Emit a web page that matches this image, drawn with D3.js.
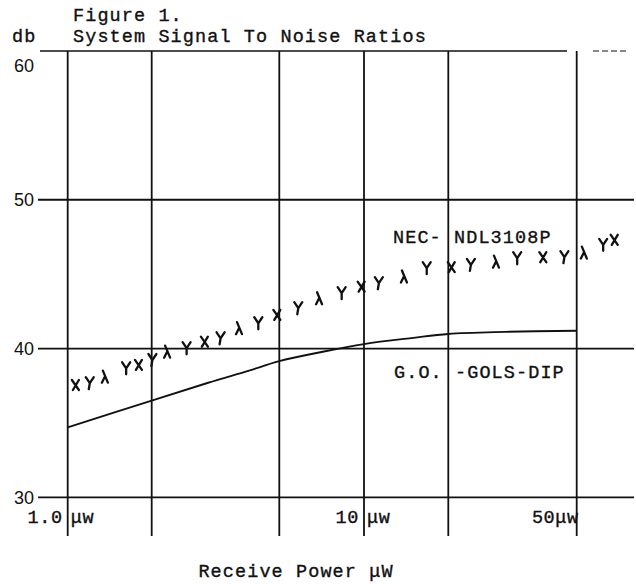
<!DOCTYPE html>
<html><head><meta charset="utf-8">
<script src="https://cdn.jsdelivr.net/npm/d3@7"></script>
<style>
html,body{margin:0;padding:0;background:#fff;}
svg{display:block;}
.mono{font-family:"Liberation Mono","DejaVu Sans Mono",monospace;}
.sans{font-family:"Liberation Sans",Arial,sans-serif;}
</style></head>
<body>
<svg id="chart" width="636" height="584"></svg>
<script>
// ---- data ----
const xGrid = [1, 2, 5, 10, 20, 50];            // receive power grid (μW)
const yGrid = [30, 40, 50, 60];                 // db grid
const yTickLabels = ["30", "40", "50", "60"];
const xTickValues = [1, 10, 50];
const xTickLeft = ["1.0", "10", "50μw"];
const xTickRight = ["μw", "μw", ""];

// G.O. -GOLS-DIP (solid curve)
const goX = [1, 2, 3, 4, 5, 7, 10, 15, 20, 30, 50];
const goY = [34.7, 36.5, 37.7, 38.5, 39.15, 39.75, 40.3, 40.72, 40.98, 41.12, 41.2];

// NEC- NDL3108P (hand-drawn marks)
const necX = [1.07, 1.2, 1.37, 1.62, 1.8, 2.01, 2.25, 2.57, 2.93, 3.28, 3.77, 4.3, 4.93,
              5.84, 6.98, 8.33, 9.81, 11.3, 14.0, 16.75, 20.5, 23.5, 28.3, 32.7, 39.4, 45.8, 53.0, 60.4, 65.6];
const necY = [37.55, 37.67, 38.11, 38.67, 38.9, 39.23, 39.79, 40.02, 40.46, 40.69, 41.37, 41.7, 42.26,
              42.71, 43.38, 43.72, 44.16, 44.39, 44.84, 45.4, 45.47, 45.62, 45.84, 46.07, 46.14, 46.14, 46.45, 46.97, 47.31];

const figureLabel = "Figure 1.";
const title = "System Signal To Noise Ratios";
const yUnit = "db";
const xTitle = "Receive Power μW";
const necLabel = "NEC- NDL3108P";
const goLabel = "G.O. -GOLS-DIP";

// ---- scales ----
const svg = d3.select("#chart");
const x = d3.scaleLog().domain(xGrid).range([67.7, 151.7, 279.3, 364, 448.3, 576.7]);
const y = d3.scaleLinear().domain([30, 60]).range([497.3, 51]);
const ink = "#111";

// horizontal grid lines
svg.append("g").selectAll("line").data(yGrid.filter(d => d < 60)).join("line")
  .attr("x1", 38).attr("x2", 634)
  .attr("y1", d => y(d)).attr("y2", d => y(d))
  .attr("stroke", ink).attr("stroke-width", 1.8);
// top line (title underline)
svg.append("line").attr("x1", 40).attr("x2", 567).attr("y1", y(60)).attr("y2", y(60))
  .attr("stroke", ink).attr("stroke-width", 1.6);
svg.append("line").attr("x1", 593).attr("x2", 628).attr("y1", y(60)).attr("y2", y(60))
  .attr("stroke", ink).attr("stroke-width", 1.2).attr("stroke-dasharray", "6,3");

// vertical grid lines
svg.append("g").selectAll("line").data(xGrid).join("line")
  .attr("x1", d => x(d)).attr("x2", d => x(d))
  .attr("y1", y(60)).attr("y2", 536)
  .attr("stroke", ink).attr("stroke-width", 1.8);

// y tick labels
svg.append("g").selectAll("text").data(yGrid).join("text")
  .attr("class", "sans")
  .attr("x", 34).attr("text-anchor", "end")
  .attr("y", d => d === 60 ? y(d) + 21 : y(d) + 6.5)
  .attr("font-size", 18).attr("fill", ink)
  .text((d, i) => yTickLabels[i]);

// x tick labels
const xt = svg.append("g").attr("class", "mono").attr("font-size", 18.5).attr("fill", ink)
  .attr("stroke", ink).attr("stroke-width", 0.35);
xt.selectAll("text.l").data(xTickValues).join("text").attr("class", "l")
  .attr("x", (d, i) => xTickRight[i] ? x(d) - 5 : x(d) + 2)
  .attr("y", 523).attr("text-anchor", "end")
  .attr("letter-spacing", 0.6)
  .text((d, i) => xTickLeft[i]);
xt.selectAll("text.r").data(xTickValues).join("text").attr("class", "r")
  .attr("x", d => x(d) + 3)
  .attr("y", 523)
  .attr("letter-spacing", 0.6)
  .text((d, i) => xTickRight[i]);

// titles
const tg = svg.append("g").attr("class", "mono").attr("font-size", 18.5).attr("fill", ink)
  .attr("stroke", ink).attr("stroke-width", 0.35).attr("letter-spacing", 1.1);
tg.append("text").attr("x", 73).attr("y", 21).text(figureLabel);
tg.append("text").attr("x", 73).attr("y", 42).text(title);
tg.append("text").attr("x", 12).attr("y", 42).text(yUnit);
tg.append("text").attr("x", 296).attr("y", 577).attr("text-anchor", "middle").text(xTitle);
tg.append("text").attr("x", 393).attr("y", 243).text(necLabel);
tg.append("text").attr("x", 394).attr("y", 378).text(goLabel);

// G.O. curve
const line = d3.line().x(d => x(d[0])).y(d => y(d[1])).curve(d3.curveCatmullRom.alpha(0.5));
svg.append("path").datum(goX.map((d, i) => [d, goY[i]]))
  .attr("d", line).attr("fill", "none").attr("stroke", ink).attr("stroke-width", 1.9);

// NEC marks (hand-drawn Y / x shapes)
const shapes = [
  "M-4,-5L3,5M3,-5L-3,5",
  "M-4,-6L0,0M4,-6L0,0L-1,6",
  "M-3,-6L2,6M-1,0L-4,6",
  "M-4,-6L0,0M4,-6L0,0L0,6"
];
svg.append("g").selectAll("path").data(necX.map((d, i) => [d, necY[i]])).join("path")
  .attr("transform", d => `translate(${x(d[0])},${y(d[1])})`)
  .attr("d", (d, i) => shapes[i % shapes.length])
  .attr("fill", "none").attr("stroke", ink).attr("stroke-width", 2.3)
  .attr("stroke-linecap", "round");
</script>
</body></html>
